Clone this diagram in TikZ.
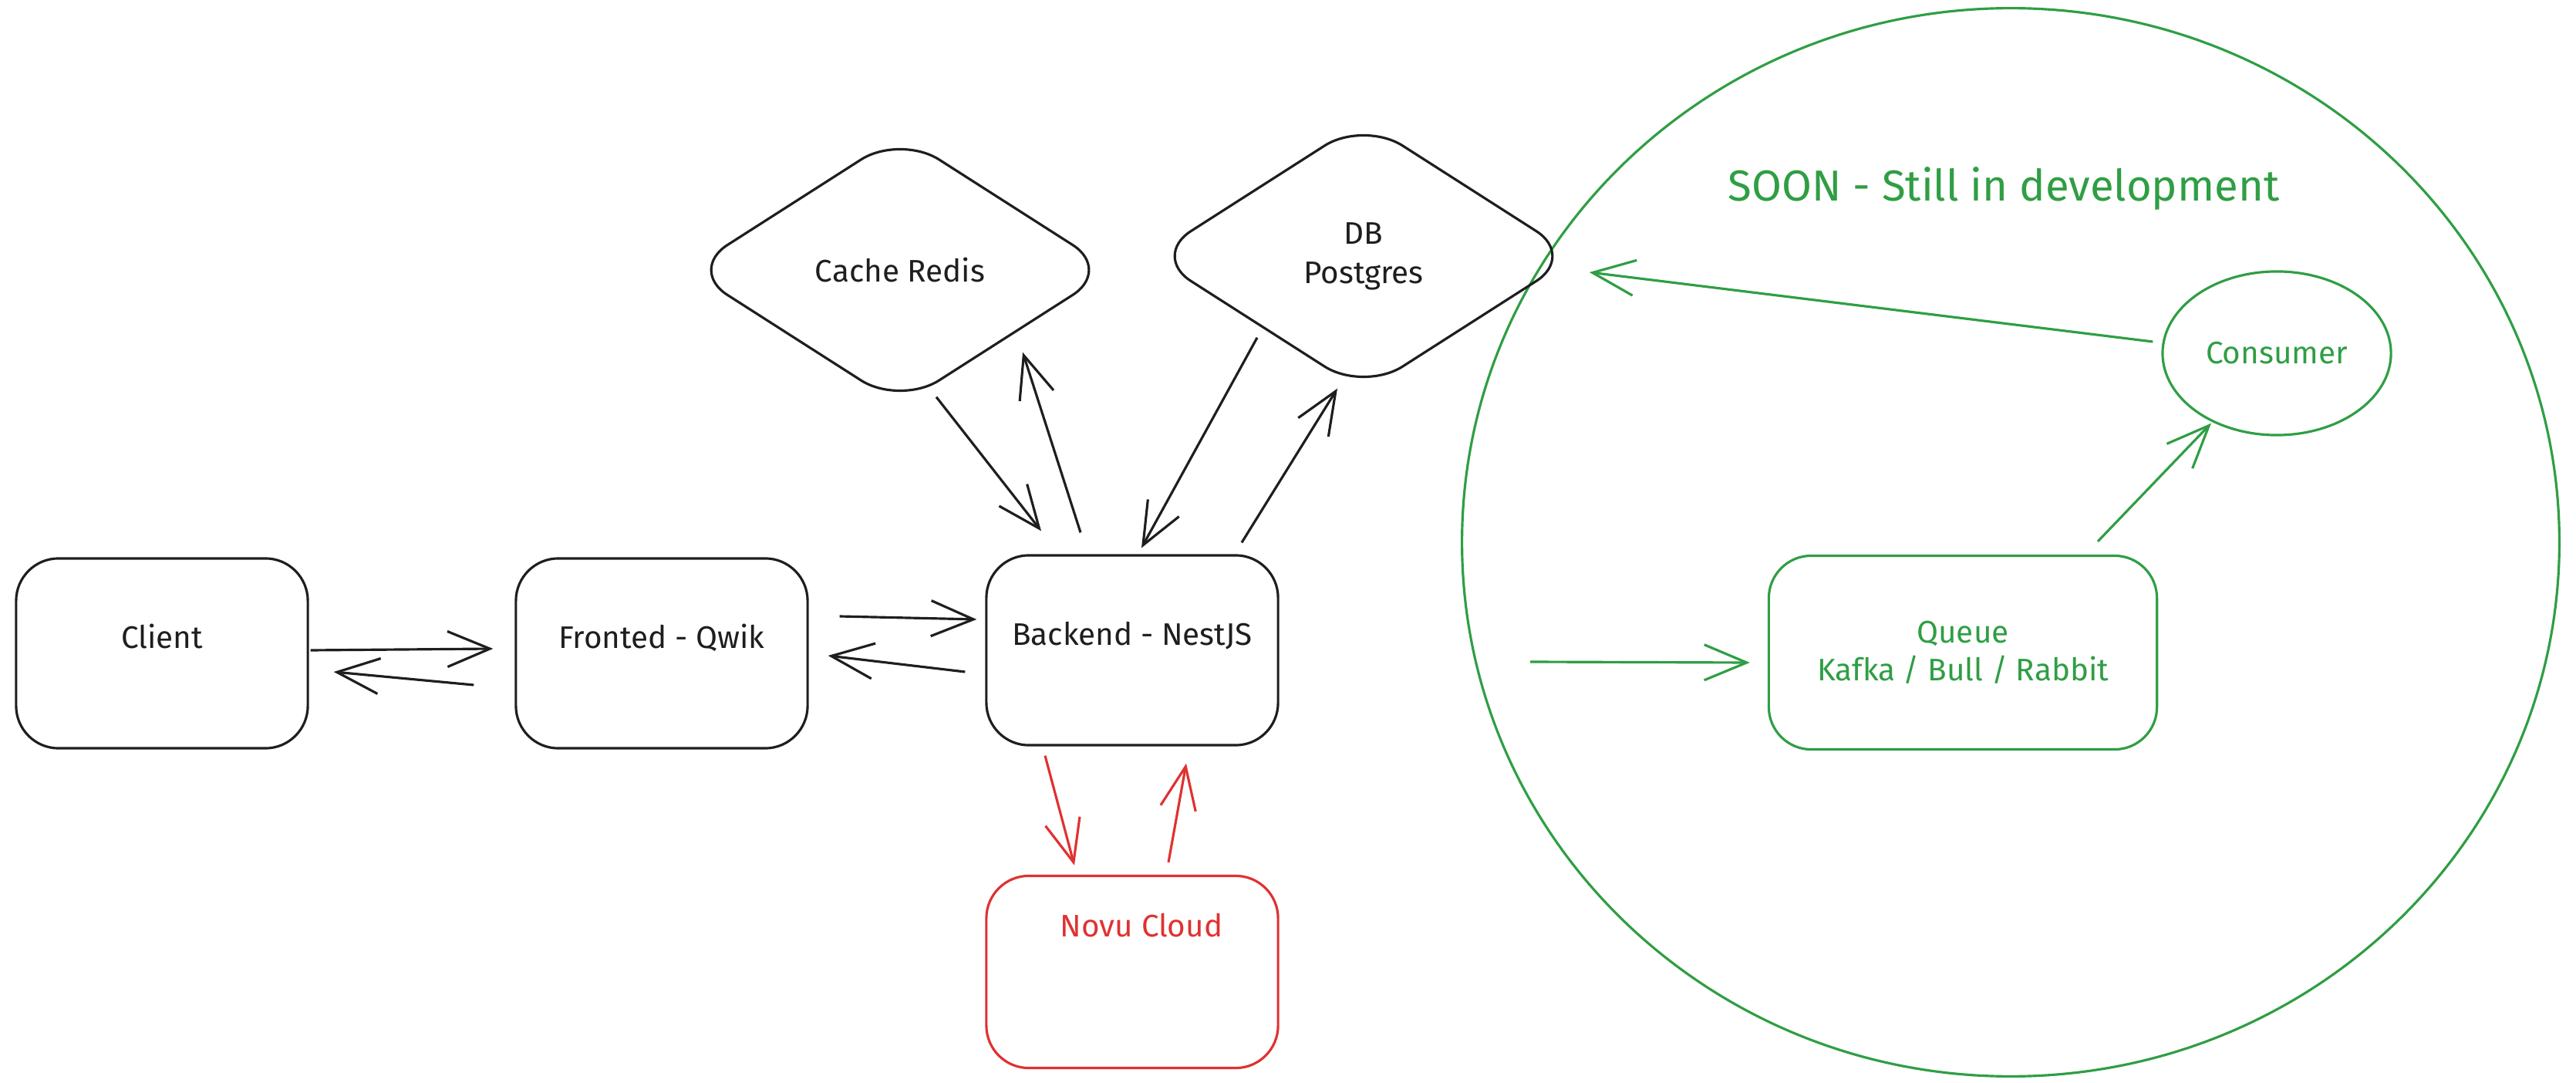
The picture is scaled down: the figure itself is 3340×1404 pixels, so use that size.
\documentclass[tikz,border=0pt]{standalone}
\usepackage{fontspec}
\setmainfont{Fira Sans}
\usetikzlibrary{arrows.meta,shapes.geometric,calc}
\definecolor{inkblack}{HTML}{1E1E1E}
\definecolor{inkred}{HTML}{E03131}
\definecolor{inkgreen}{HTML}{2F9E44}

\begin{document}
\begin{tikzpicture}[x=0.01cm,y=-0.01cm,color=inkblack]
\tikzset{box/.style = {shape=rectangle,draw,rounded corners=0.55cm,line width=0.9pt,minimum width=3.78cm,minimum height=2.46cm,inner sep=0pt,font=\fontsize{11.5}{14}\selectfont}}
\tikzset{raised/.style = {text height=0.3cm,text depth=0.42cm}}
\tikzset{store/.style = {shape=diamond,draw,rounded corners=0.6cm,line width=0.9pt,minimum width=5.5cm,minimum height=3.52cm,inner sep=0pt,align=center,font=\fontsize{11.5}{14.5}\selectfont}}
\tikzset{edge/.style = {-{Straight Barb[length=5.5mm,width=4.6mm]},line width=0.9pt}}
\tikzset{soonpart/.style = {draw=inkgreen,text=inkgreen}}
\useasboundingbox (0,0) rectangle (3340,1404);
% NODES
\node[shape=ellipse,draw=inkgreen,line width=0.9pt,minimum width=14.22cm,minimum height=13.84cm] (soon) at (2607,703) {};
\node[text=inkgreen,font=\fontsize{16}{19}\selectfont] (soontitle) at (2598,245) {SOON - Still in development};
\node[box,raised] (client) at (210,847) {Client};
\node[box,raised] (fronted) at (858,847) {Fronted - Qwik};
\node[box,raised] (backend) at (1468,843) {Backend - NestJS};
\node[box,draw=inkred,minimum height=2.49cm,label={[inkred,anchor=center,xshift=0.12cm,yshift=-0.66cm,font=\fontsize{11.5}{14}\selectfont]north:Novu Cloud}] (novu) at (1468,1260) {};
\node[store] (cache) at (1167,350) {Cache Redis};
\node[store] (db) at (1768,332) {DB\\Postgres};
\node[shape=ellipse,soonpart,line width=0.9pt,minimum width=2.96cm,minimum height=2.12cm,inner sep=0pt,font=\fontsize{11.5}{14}\selectfont] (consumer) at (2952,458) {Consumer};
\node[box,soonpart,minimum width=5.03cm,minimum height=2.51cm,align=center] (queue) at (2545,846) {Queue\\Kafka / Bull / Rabbit};
\coordinate (qin) at (1984,858);
% EDGES
\draw[edge] ($(client.east)+(2,-4)$) -- ($(fronted.west)+(-28,-6)$);
\draw[edge] ($(fronted.west)+(-53,41)$) -- ($(client.east)+(32,24)$);
\draw[edge] ($(fronted.east)+(40,-48)$) -- ($(backend.west)+(-11,-40)$);
\draw[edge] ($(backend.west)+(-26,28)$) -- ($(fronted.east)+(25,3)$);

\draw[edge] ($(cache.south)+(47,-13)$) -- ($(backend.north)+(-118,-30)$);
\draw[edge] ($(backend.north)+(-67,-28)$) -- ($(cache.south)+(159,-71)$);
\draw[edge] ($(db.south)+(-138,-72)$) -- ($(backend.north)+(12,-8)$);
\draw[edge] ($(backend.north)+(142,-15)$) -- ($(db.south)+(-34,-6)$);

\draw[edge,inkred] ($(backend.south)+(-113,12)$) -- ($(novu.north)+(-75,-12)$);
\draw[edge,inkred] ($(novu.north)+(47,-16)$) -- ($(backend.south)+(70,22)$);

\draw[edge,inkgreen] ($(consumer.west)+(-11,-15)$) -- ($(db.east)+(16,21)$);
\draw[edge,inkgreen] ($(queue.north)+(175,-17)$) -- ($(consumer.south)+(-85,-17)$);
\draw[edge,inkgreen] (qin) -- ($(queue.west)+(-23,13)$);
\end{tikzpicture}
\end{document}
